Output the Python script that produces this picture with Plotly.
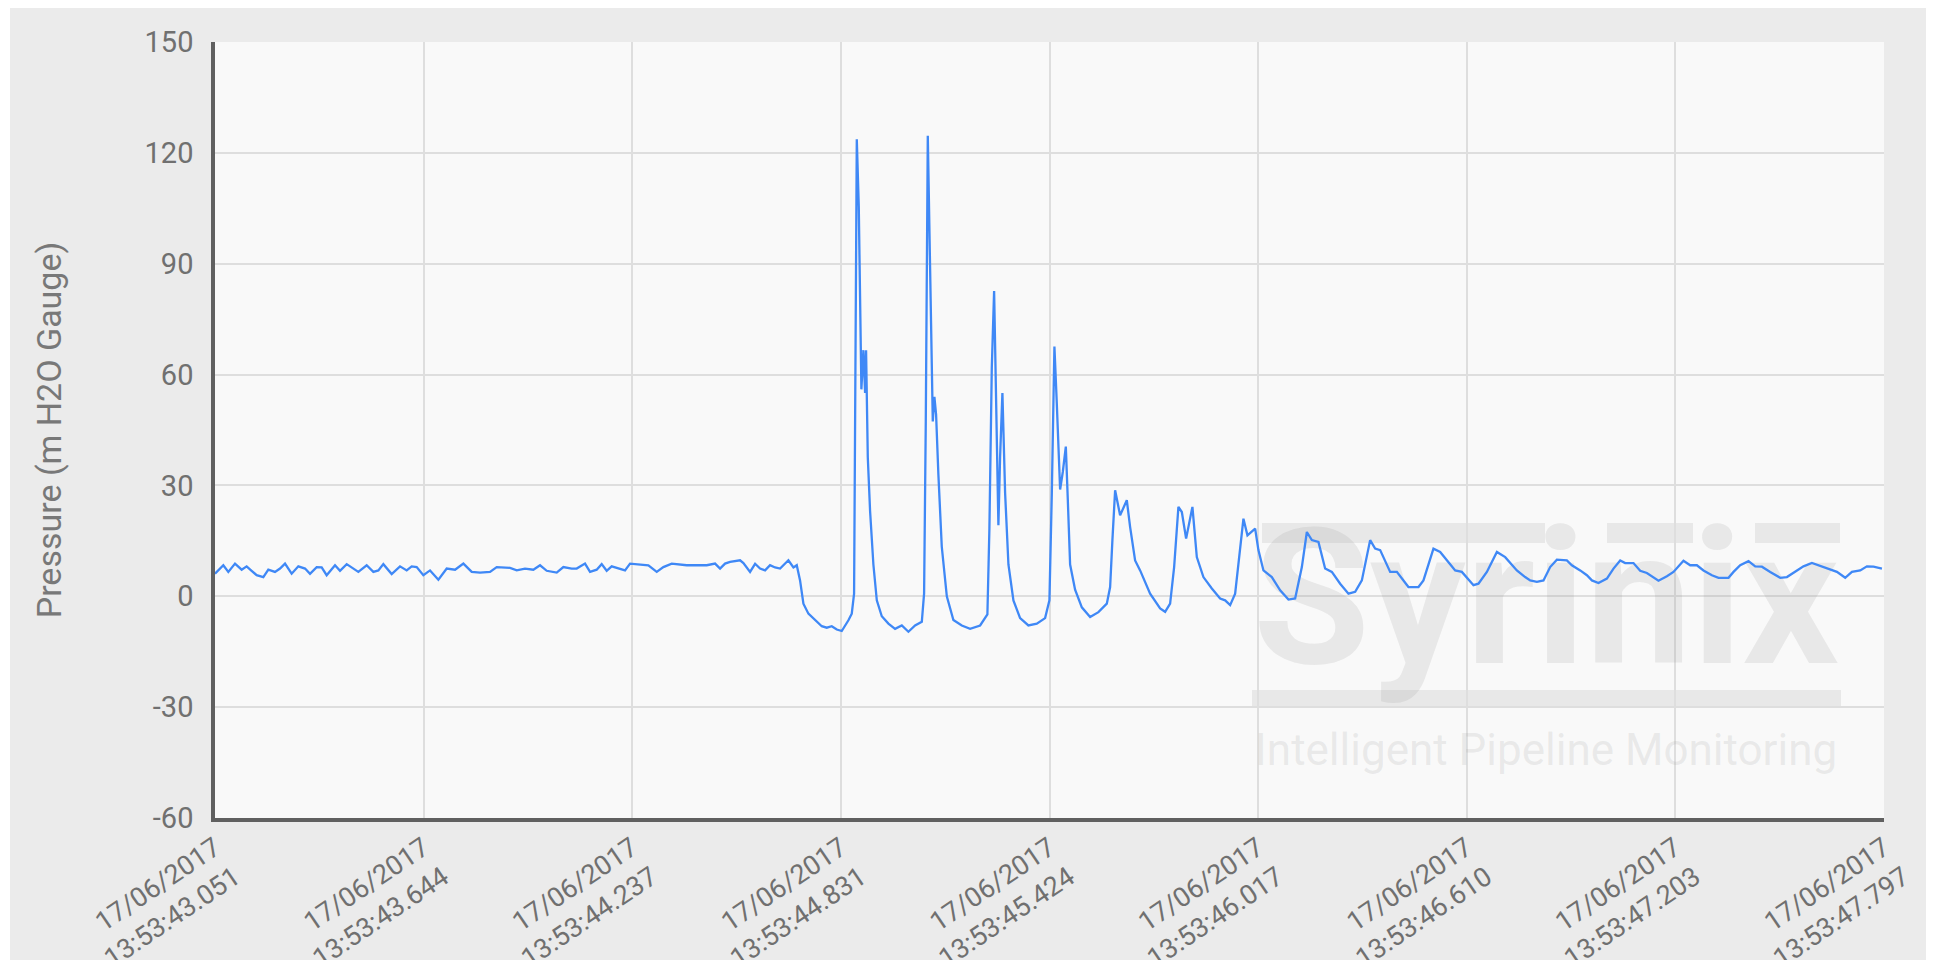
import pandas as pd
import plotly.graph_objects as go

# ---------------- data ----------------
start_time = "2017-06-17 13:53:43.051"
end_time = "2017-06-17 13:53:47.797"

# time offsets from start (milliseconds)
time_ms = [
    0, 23.7, 37.9, 56.9, 75.8, 90.0, 104.2, 118.4, 137.4, 151.6, 170.6, 184.9, 199.1, 218.0,
    237.0, 256.0, 270.2, 289.1, 303.3, 317.5, 341.3, 355.5, 374.5, 393.4, 407.6, 431.3, 450.3,
    464.5, 478.7, 502.4, 526.1, 545.1, 559.3, 573.5, 592.5, 611.5, 635.2, 658.9, 682.6, 706.3,
    730.0, 753.7, 782.1, 801.1, 820.0, 839.0, 858.0, 881.6, 905.3, 924.3, 943.3, 971.7, 990.6,
    1014.3, 1028.5, 1052.2, 1066.5, 1085.4, 1099.6, 1113.8, 1128.0, 1147.0, 1166.0, 1180.2,
    1208.7, 1232.4, 1256.1, 1275.0, 1298.7, 1313.0, 1341.4, 1369.9, 1398.3, 1422.0, 1436.2,
    1450.4, 1464.7, 1493.1, 1502.6, 1521.5, 1535.8, 1550.0, 1564.2, 1578.4, 1592.6, 1606.9,
    1630.5, 1644.8, 1654.3, 1663.7, 1673.2, 1687.4, 1706.4, 1725.4, 1739.6, 1753.8, 1768.1,
    1782.3, 1801.2, 1810.7, 1817.3, 1820.2, 1825.0, 1830.7, 1834.4, 1838.1, 1843.8, 1848.6,
    1851.4, 1856.3, 1862.8, 1872.2, 1881.9, 1896.1, 1914.9, 1933.9, 1953.0, 1971.8, 1990.8,
    2009.9, 2016.4, 2021.2, 2026.9, 2031.5, 2035.5, 2041.1, 2045.7, 2050.5, 2057.1, 2066.7,
    2081.0, 2099.7, 2123.6, 2147.2, 2175.7, 2196.4, 2202.1, 2208.9, 2215.5, 2221.2, 2227.7,
    2232.5, 2239.1, 2246.8, 2256.2, 2270.4, 2289.4, 2313.0, 2336.9, 2360.5, 2372.8, 2379.6,
    2387.0, 2393.8, 2403.2, 2410.9, 2419.4, 2425.1, 2431.6, 2445.8, 2464.9, 2488.5, 2512.1,
    2536.0, 2545.4, 2551.9, 2559.6, 2573.8, 2592.8, 2602.2, 2616.4, 2630.7, 2659.1, 2687.6,
    2701.8, 2716.0, 2727.4, 2739.6, 2749.3, 2761.5, 2779.4, 2791.9, 2810.7, 2834.6, 2858.2,
    2872.4, 2886.7, 2900.9, 2915.1, 2924.5, 2935.9, 2957.8, 2967.1, 2981.4, 3005.2, 3028.9,
    3052.5, 3071.5, 3090.6, 3104.8, 3119.0, 3137.8, 3156.8, 3175.9, 3199.5, 3223.1, 3242.2,
    3261.2, 3284.8, 3299.0, 3313.3, 3341.7, 3360.8, 3393.7, 3422.2, 3436.4, 3464.8, 3483.9,
    3526.6, 3545.6, 3578.6, 3592.8, 3616.7, 3645.2, 3668.8, 3702.0, 3725.6, 3739.9, 3758.9,
    3777.7, 3796.7, 3815.8, 3844.2, 3858.4, 3882.1, 3901.1, 3915.4, 3934.1, 3958.0, 3976.8,
    3995.8, 4010.0, 4033.6, 4052.7, 4071.7, 4090.5, 4104.7, 4128.6, 4147.4, 4175.8, 4194.9,
    4213.9, 4232.7, 4256.6, 4275.4, 4303.8, 4318.1, 4337.1, 4360.7, 4379.8, 4398.8, 4422.4,
    4450.9, 4469.9, 4493.5, 4517.1, 4541.0, 4559.8, 4583.7, 4612.1, 4635.7, 4654.8, 4678.4,
    4697.4, 4716.2, 4740.1,
]

# pressure (m H2O Gauge)
pressure = [
    6.1, 8.4, 6.6, 8.85, 7.2, 8.1, 6.9, 5.7, 5.2, 7.2, 6.6, 7.5, 8.85, 6.1,
    8.1, 7.5, 6.1, 7.9, 7.8, 5.7, 8.4, 6.9, 8.7, 7.5, 6.6, 8.4, 6.6,
    7.0, 8.7, 6.0, 8.1, 7.0, 8.1, 7.9, 5.7, 7.0, 4.5, 7.5, 7.2, 8.85,
    6.6, 6.4, 6.6, 7.9, 7.9, 7.7, 7.0, 7.5, 7.2, 8.4, 6.9, 6.4, 7.9,
    7.5, 7.5, 8.85, 6.6, 7.2, 8.7, 6.9, 8.1, 7.5, 7.0, 8.85,
    8.7, 8.4, 6.6, 7.9, 8.85, 8.7, 8.4, 8.4, 8.4, 8.85, 7.5,
    8.85, 9.3, 9.75, 9.0, 6.6, 8.8, 7.5, 7.0, 8.4, 7.8, 7.5,
    9.75, 7.8, 8.4, 4.3, -2.0, -4.7, -6.5, -8.1, -8.5, -8.1, -9.0,
    -9.4, -6.5, -4.7, 0.7, 56.9, 123.7, 105.3, 76.3, 56.0, 66.6, 55.0,
    66.6, 37.6, 23.1, 8.6, -1.1, -5.4, -7.4, -8.8, -7.9, -9.6, -7.9,
    -6.9, 0.8, 47.3, 124.6, 100.5, 76.3, 47.3, 54.0, 49.2, 32.8, 13.4,
    0.0, -6.4, -7.9, -8.8, -7.9, -4.9, 18.3, 61.8, 82.6, 52.1, 19.2,
    37.6, 55.0, 27.9, 8.6, -1.1, -5.9, -7.9, -7.4, -5.9, -1.1, 27.9,
    67.6, 52.1, 28.9, 33.7, 40.5, 26.0, 8.6, 1.8, -3.0, -5.6, -4.3,
    -2.0, 2.5, 15.2, 28.7, 21.9, 26.0, 18.8, 9.7, 7.0, 0.7, -3.3,
    -4.2, -2.0, 7.9, 24.2, 22.8, 15.6, 24.2, 10.6, 5.2, 2.1, -0.6,
    -1.1, -2.4, 0.7, 12.5, 21.0, 16.5, 18.3, 12.5, 7.0, 5.2, 1.6,
    -0.9, -0.6, 7.9, 17.4, 15.2, 14.7, 7.5, 6.6, 3.4, 0.7, 1.2,
    4.3, 15.2, 12.9, 12.5, 6.6, 6.6, 2.5, 2.5, 4.3, 12.9, 12.0,
    7.0, 6.6, 3.0, 3.4, 6.6, 12.0, 10.6, 7.0, 5.2, 4.3, 3.9,
    4.3, 7.9, 9.9, 9.7, 8.4, 7.0, 5.7, 4.3, 3.6, 4.8, 7.5,
    9.7, 9.0, 9.0, 6.9, 6.3, 5.1, 4.2, 5.4, 6.6, 9.6, 8.4,
    8.4, 7.0, 5.7, 5.0, 5.0, 6.6, 8.4, 9.5, 8.1, 8.0, 6.6,
    5.0, 5.2, 6.6, 8.1, 9.0, 8.4, 7.5, 6.6, 5.0, 6.6, 7.0,
    8.1, 8.0, 7.5,
]

tick_times = ["13:53:43.051", "13:53:43.644", "13:53:44.237", "13:53:44.831", "13:53:45.424",
              "13:53:46.017", "13:53:46.610", "13:53:47.203", "13:53:47.797"]
tick_date_iso = "2017-06-17"
tick_date_label = "17/06/2017"

y_ticks = [-60, -30, 0, 30, 60, 90, 120, 150]
y_ticktext = ["-60", "-30", "0", "30", "60", "90", "120", "150"]
y_title = "Pressure (m H2O Gauge)"

watermark_main = "Syrinix"
watermark_sub = "Intelligent Pipeline Monitoring"
watermark_time = "2017-06-17 13:53:46.836"
watermark_y = [-5.2, -42.6]

# ---------------- figure ----------------
t0 = pd.Timestamp(start_time)
x_vals = [(t0 + pd.Timedelta(milliseconds=m)).strftime("%Y-%m-%d %H:%M:%S.%f") for m in time_ms]

FAMILY = "Roboto, sans-serif"
YTICK_FONT = dict(family=FAMILY, size=29, color="#707070")
XTICK_FONT = dict(family=FAMILY, size=27, color="#707070")
WM_COLOR = "rgba(150,150,150,0.17)"

fig = go.Figure()

fig.add_trace(go.Scatter(
    x=[watermark_time, watermark_time], y=watermark_y,
    mode="text", text=[watermark_main, watermark_sub],
    textposition="middle center",
    textfont=dict(family=FAMILY, size=[190, 44], color=WM_COLOR, weight=["bold", "normal"]),
    hoverinfo="skip", showlegend=False, cliponaxis=False,
))

fig.add_trace(go.Scatter(
    x=x_vals, y=pressure, mode="lines",
    line=dict(color="#3f88f6", width=2.3),
    showlegend=False,
))

# the page body adds an 8 px offset; margins compensate so the plot area
# sits at page x 215..1884, y 42..818
fig.update_layout(
    width=1934, height=960,
    margin=dict(l=207, r=58, t=34, b=150, autoexpand=False),
    paper_bgcolor="white",
    plot_bgcolor="#f9f9f9",
    showlegend=False,
    font=YTICK_FONT,
)

fig.update_xaxes(
    type="date",
    range=[start_time, end_time],
    tickmode="array",
    tickvals=[f"{tick_date_iso} {t}" for t in tick_times],
    ticktext=[f"{tick_date_label}<br>{t}" for t in tick_times],
    tickangle=-34,
    tickfont=XTICK_FONT,
    ticklabelstandoff=0,
    showgrid=True, gridcolor="#dedede", gridwidth=1.5,
    showline=True, linecolor="#606060", linewidth=3.5,
    ticks="", zeroline=False, automargin=False,
)

fig.update_yaxes(
    range=[-60, 150],
    tickmode="array", tickvals=y_ticks, ticktext=y_ticktext,
    tickfont=YTICK_FONT,
    showgrid=True, gridcolor="#dedede", gridwidth=1.5,
    showline=True, linecolor="#606060", linewidth=3.5,
    ticks="", zeroline=False, automargin=False,
    ticklabelstandoff=12,
    title=dict(text=y_title, font=dict(family=FAMILY, size=34, color="#787878"), standoff=74),
)

# gray frame around the plot area (page coordinates -> paper coordinates)
PW, PH = 1669.0, 776.0
def px(xp):
    return (xp - 215) / PW
def py(yp):
    return (818 - yp) / PH

GRAY = "#ebebeb"
for (xa, xb, ya, yb) in [(10, 215, 5, 970), (1884, 1944, 5, 970), (215, 1884, 5, 42), (215, 1884, 818, 970)]:
    fig.add_shape(type="rect", xref="paper", yref="paper", x0=px(xa), x1=px(xb), y0=py(yb), y1=py(ya),
                  fillcolor=GRAY, line_width=0, layer="below")

# watermark bars
for xa, xb, yy, w in [(1252, 1841, 699, 18), (1262, 1545, 533, 20), (1607, 1693, 533, 20), (1755, 1840, 533, 20)]:
    fig.add_shape(type="line", xref="paper", yref="paper", x0=px(xa), x1=px(xb), y0=py(yy), y1=py(yy),
                  line=dict(color=WM_COLOR, width=w), layer="below")

fig.write_html("out.html")
